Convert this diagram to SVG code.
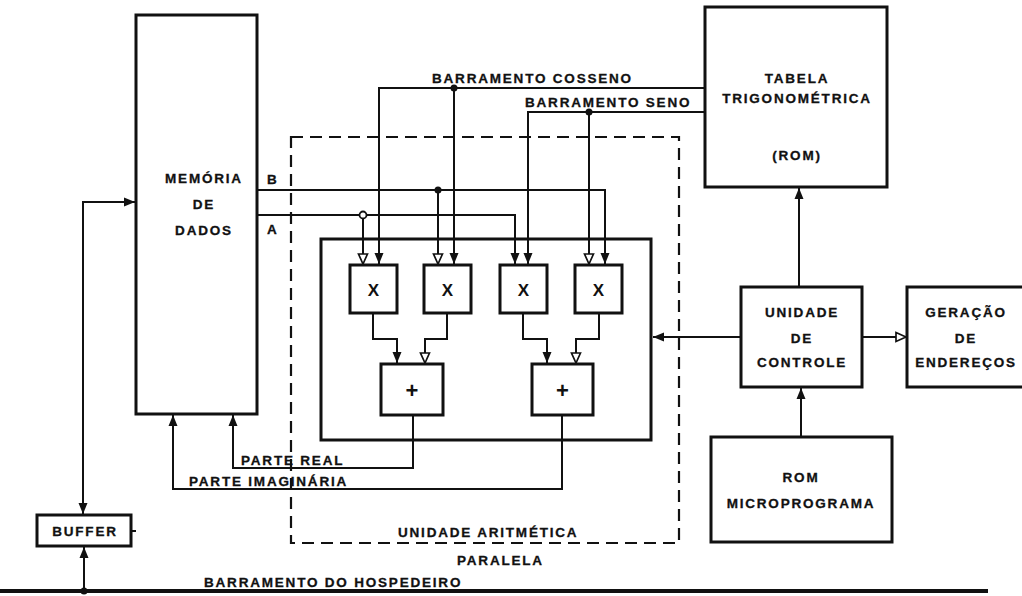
<svg xmlns="http://www.w3.org/2000/svg" width="1022" height="596" viewBox="0 0 1022 596">
<defs>
<style>
.box{fill:none;stroke:#111;stroke-width:3}
.ln{fill:none;stroke:#111;stroke-width:2}
.t{font-family:"Liberation Sans",Arial,sans-serif;font-weight:bold;font-size:13.5px;letter-spacing:1.8px;fill:#111;stroke:#111;stroke-width:0.3}
.m{text-anchor:middle}
.op{font-family:"Liberation Sans",Arial,sans-serif;font-weight:bold;font-size:17px;fill:#111;text-anchor:middle}
.pl{font-family:"Liberation Sans",Arial,sans-serif;font-weight:bold;font-size:22px;fill:#111;text-anchor:middle}
</style>
<marker id="af" markerUnits="userSpaceOnUse" markerWidth="12" markerHeight="11" refX="11" refY="5.5" orient="auto-start-reverse"><path d="M0,1 L11,5.5 L0,10 z" fill="#111"/></marker>
<marker id="ah" markerUnits="userSpaceOnUse" markerWidth="13" markerHeight="12" refX="11" refY="6" orient="auto"><path d="M1,1.5 L11,6 L1,10.5 z" fill="#fff" stroke="#111" stroke-width="1.7"/></marker>
</defs>
<rect width="1022" height="596" fill="#fff"/>

<g id="connectors">
<line x1="0" y1="591" x2="988" y2="591" stroke="#111" stroke-width="4"/>
<path class="ln" d="M83,514 L83,202 L135,202" marker-start="url(#af)" marker-end="url(#af)"/>
<path class="ln" d="M84,591 L84,547" marker-end="url(#af)"/>
<circle cx="84" cy="591" r="3.5" fill="#111"/>
<line class="ln" x1="131" y1="531" x2="136" y2="531"/>

<path class="ln" d="M706,88 L379,88 L379,264" marker-end="url(#af)"/>
<path class="ln" d="M454,88 L454,264" marker-end="url(#af)"/>
<circle cx="454" cy="88" r="3.5" fill="#111"/>
<path class="ln" d="M706,112 L528,112 L528,264" marker-end="url(#af)"/>
<path class="ln" d="M589,112 L589,264" marker-end="url(#ah)"/>
<circle cx="589" cy="112" r="3.5" fill="#111"/>

<path class="ln" d="M257,190 L605,190 L605,264" marker-end="url(#af)"/>
<path class="ln" d="M438,190 L438,264" marker-end="url(#ah)"/>
<circle cx="438" cy="190" r="3.5" fill="#111"/>
<path class="ln" d="M257,215 L515,215 L515,264" marker-end="url(#af)"/>
<path class="ln" d="M363,215 L363,264" marker-end="url(#ah)"/>
<circle cx="363" cy="215" r="3.5" fill="#fff" stroke="#111" stroke-width="1.8"/>

<path class="ln" d="M373,313 L373,339 L397,339 L397,363" marker-end="url(#af)"/>
<path class="ln" d="M447,313 L447,339 L425,339 L425,363" marker-end="url(#ah)"/>
<path class="ln" d="M523,313 L523,339 L547,339 L547,363" marker-end="url(#af)"/>
<path class="ln" d="M599,313 L599,339 L576,339 L576,363" marker-end="url(#ah)"/>

<path class="ln" d="M413,415 L413,468 L233,468 L233,415" marker-end="url(#af)"/>
<path class="ln" d="M562,415 L562,489 L173,489 L173,415" marker-end="url(#af)"/>

<path class="ln" d="M741,337 L653,337" marker-end="url(#af)"/>
<path class="ln" d="M862,337 L906,337" marker-end="url(#ah)"/>
<path class="ln" d="M799,287 L799,188" marker-end="url(#af)"/>
<path class="ln" d="M801,437 L801,388" marker-end="url(#af)"/>
</g>

<g id="memoria">
<rect class="box" x="136" y="15" width="121" height="399"/>
<text class="t m" x="204" y="183">MEMÓRIA</text>
<text class="t m" x="204" y="209">DE</text>
<text class="t m" x="204" y="235">DADOS</text>
<text class="t" x="267" y="184">B</text>
<text class="t" x="267" y="234">A</text>
</g>

<g id="unidade-aritmetica">
<rect x="291" y="137" width="388" height="406" fill="none" stroke="#111" stroke-width="2.2" stroke-dasharray="12,7"/>
<rect class="box" x="321" y="239" width="330" height="201"/>
<text class="t" x="398" y="537">UNIDADE ARITMÉTICA</text>
<text class="t" x="457" y="565">PARALELA</text>
</g>

<g id="mult1"><rect class="box" x="350" y="265" width="47" height="48"/><text class="op" x="373.5" y="296">X</text></g>
<g id="mult2"><rect class="box" x="424" y="265" width="47" height="48"/><text class="op" x="447.5" y="296">X</text></g>
<g id="mult3"><rect class="box" x="500" y="265" width="47" height="48"/><text class="op" x="523.5" y="296">X</text></g>
<g id="mult4"><rect class="box" x="575" y="265" width="47" height="48"/><text class="op" x="598.5" y="296">X</text></g>
<g id="soma1"><rect class="box" x="381" y="364" width="62" height="51"/><text class="pl" x="412" y="398">+</text></g>
<g id="soma2"><rect class="box" x="532" y="364" width="61" height="51"/><text class="pl" x="562.5" y="398">+</text></g>

<g id="tabela">
<rect class="box" x="705" y="7" width="182" height="180"/>
<text class="t m" x="797" y="83">TABELA</text>
<text class="t m" x="797" y="103">TRIGONOMÉTRICA</text>
<text class="t m" x="797" y="160">(ROM)</text>
</g>

<g id="controle">
<rect class="box" x="741" y="287" width="121" height="100"/>
<text class="t m" x="802" y="317">UNIDADE</text>
<text class="t m" x="802" y="343">DE</text>
<text class="t m" x="802" y="367">CONTROLE</text>
</g>

<g id="geracao">
<path class="box" d="M1030,287 L907,287 L907,387 L1030,387"/>
<text class="t m" x="966" y="317">GERAÇÃO</text>
<text class="t m" x="966" y="343">DE</text>
<text class="t m" x="966" y="367">ENDEREÇOS</text>
</g>

<g id="rom-micro">
<rect class="box" x="711" y="437" width="181" height="105"/>
<text class="t m" x="801" y="482">ROM</text>
<text class="t m" x="801" y="508">MICROPROGRAMA</text>
</g>

<g id="buffer">
<rect class="box" x="37" y="515" width="94" height="31"/>
<text class="t m" x="85" y="536">BUFFER</text>
</g>

<g id="labels">
<text class="t" x="432" y="83">BARRAMENTO COSSENO</text>
<text class="t" x="525" y="107">BARRAMENTO SENO</text>
<text class="t" x="241" y="465">PARTE REAL</text>
<text class="t" x="189" y="486">PARTE IMAGINÁRIA</text>
<text class="t" x="204" y="587">BARRAMENTO DO HOSPEDEIRO</text>
</g>
</svg>
